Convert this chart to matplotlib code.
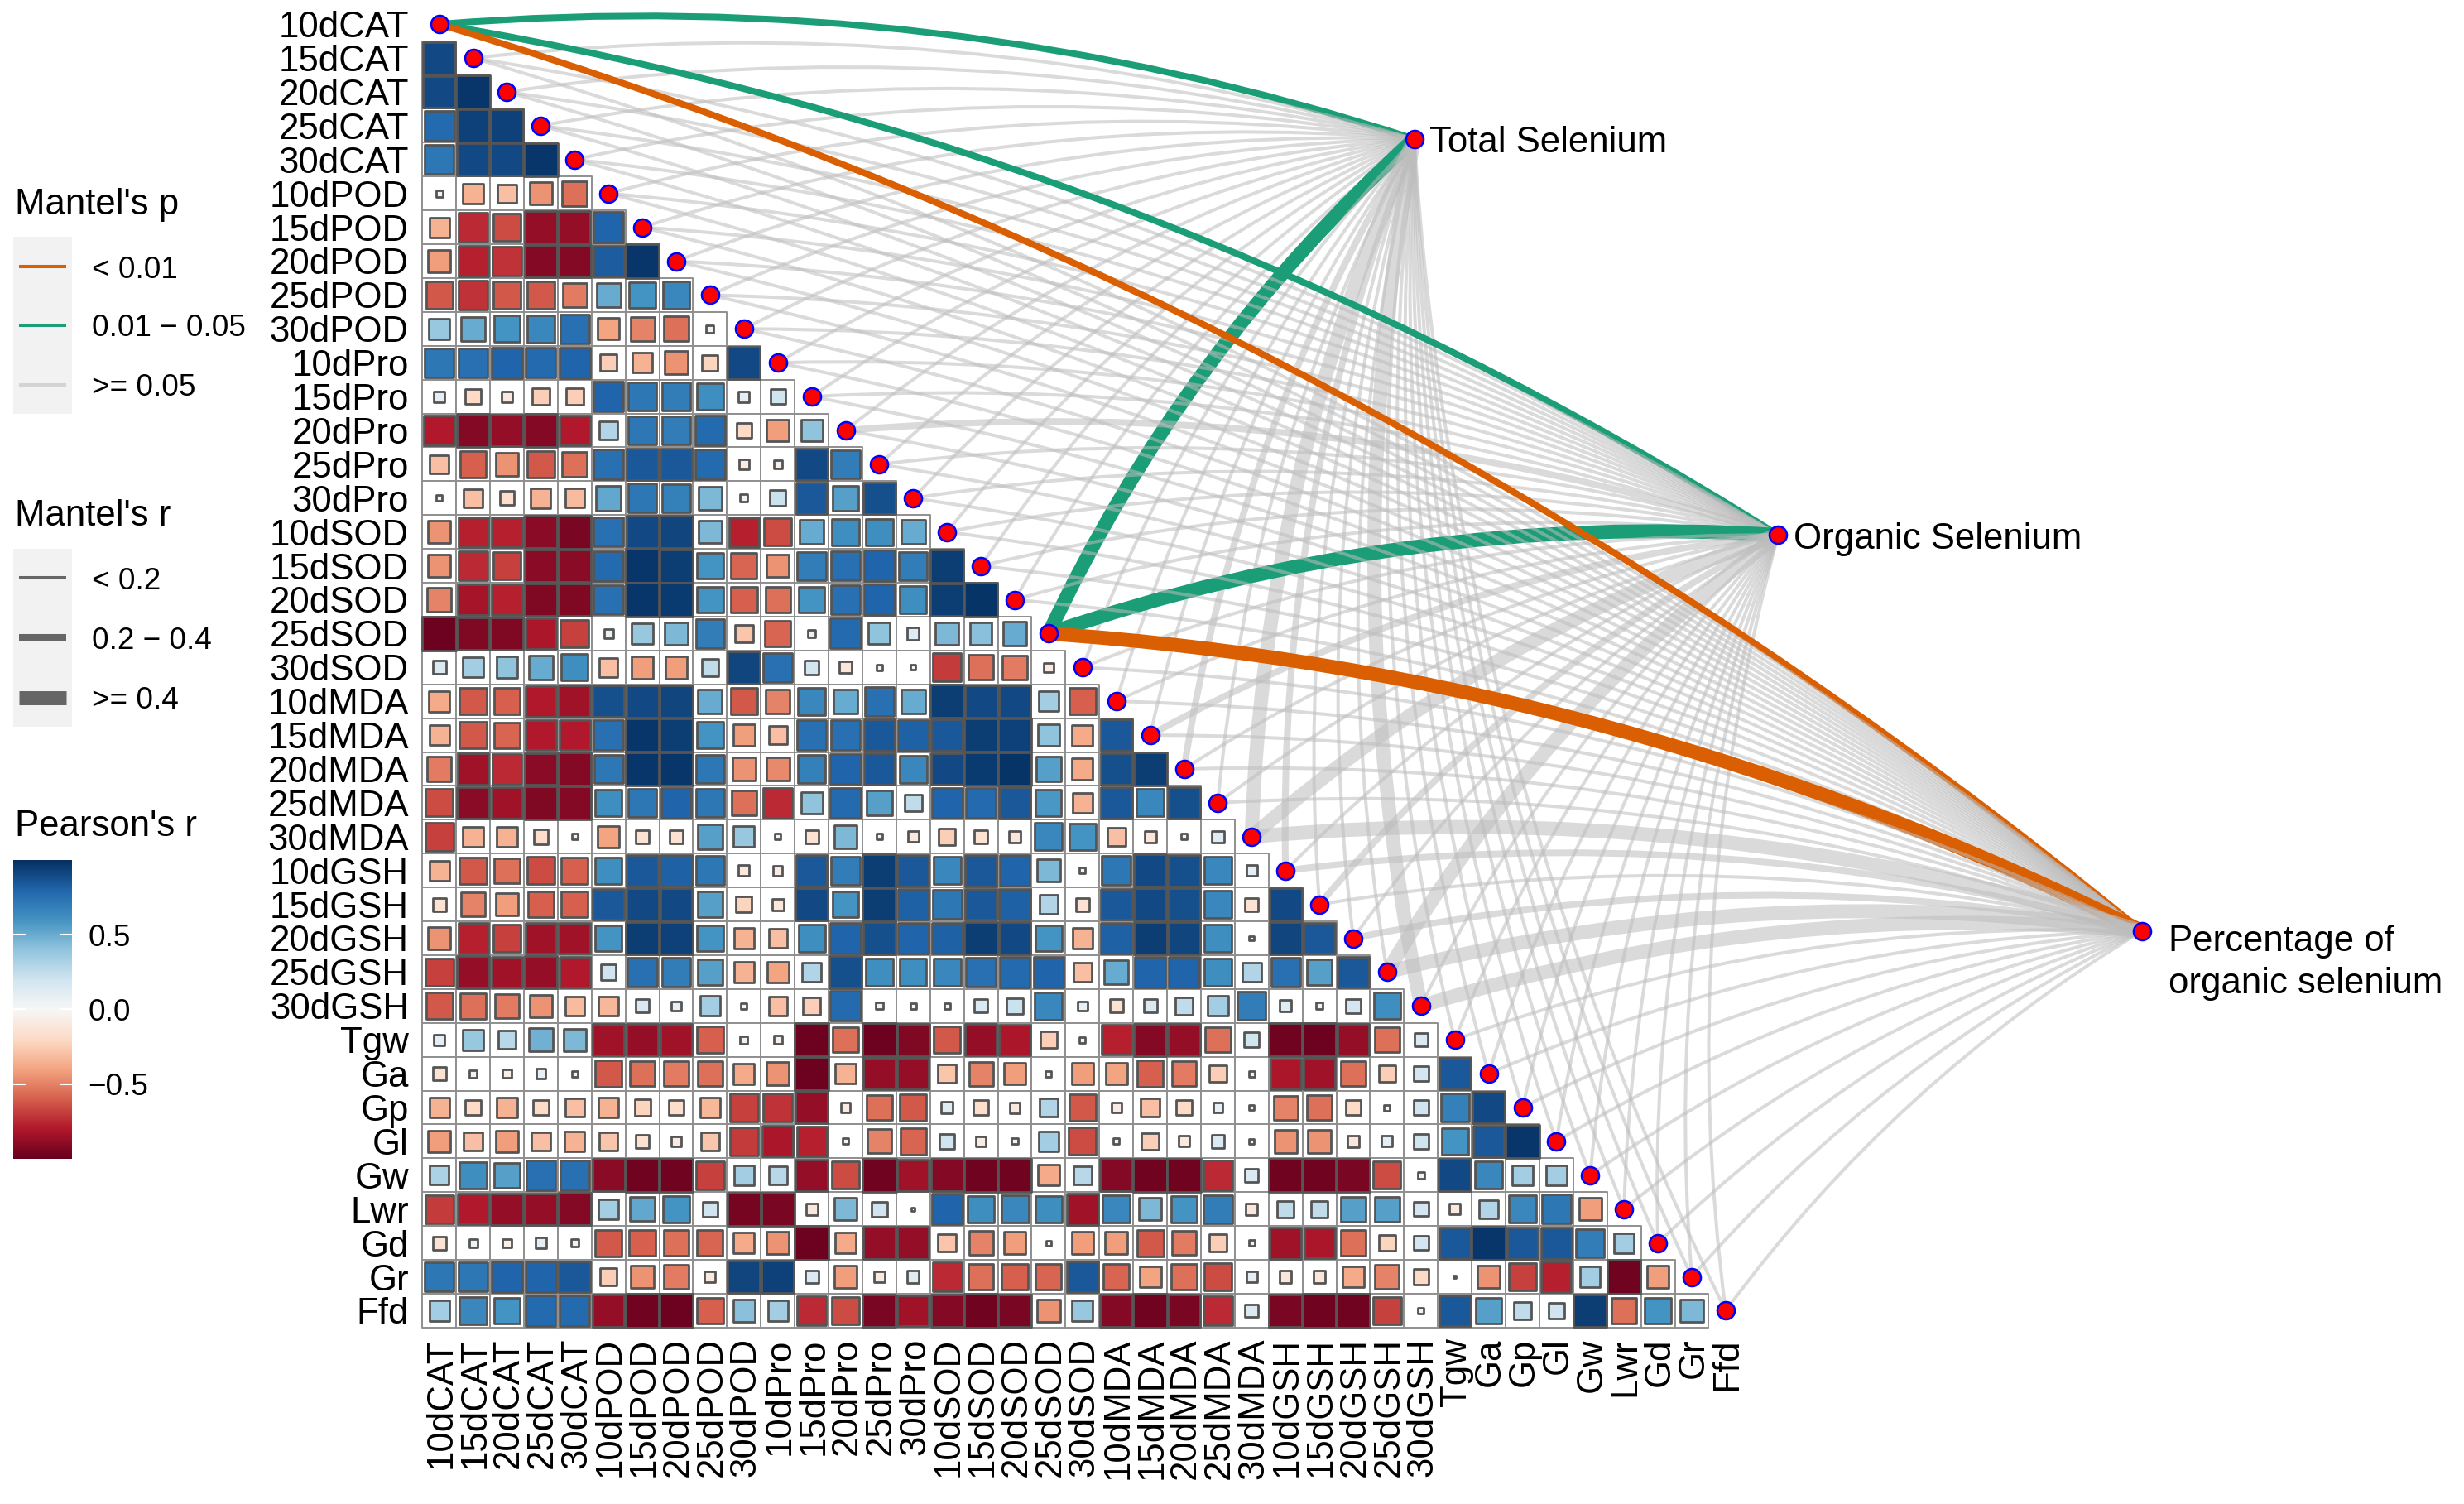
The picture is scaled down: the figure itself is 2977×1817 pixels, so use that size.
import numpy as np
import matplotlib.pyplot as plt
import matplotlib.colors as mcolors
from matplotlib.patches import Rectangle, PathPatch
from matplotlib.collections import PatchCollection
from matplotlib.path import Path

plt.rcParams['font.family'] = ['Liberation Sans', 'DejaVu Sans']

############################################################################
# data
############################################################################

variables = ['10dCAT', '15dCAT', '20dCAT', '25dCAT', '30dCAT',
             '10dPOD', '15dPOD', '20dPOD', '25dPOD', '30dPOD',
             '10dPro', '15dPro', '20dPro', '25dPro', '30dPro',
             '10dSOD', '15dSOD', '20dSOD', '25dSOD', '30dSOD',
             '10dMDA', '15dMDA', '20dMDA', '25dMDA', '30dMDA',
             '10dGSH', '15dGSH', '20dGSH', '25dGSH', '30dGSH',
             'Tgw', 'Ga', 'Gp', 'Gl', 'Gw', 'Lwr', 'Gd', 'Gr', 'Ffd']

# Pearson's r, lower triangle: row k holds r(variables[k+1], variables[0..k])
corr_rows = [
    [0.90],
    [0.90, 0.97],
    [0.78, 0.93, 0.93],
    [0.72, 0.90, 0.90, 0.97],
    [-0.04, -0.35, -0.30, -0.45, -0.55],
    [-0.35, -0.75, -0.65, -0.88, -0.88, 0.80],
    [-0.42, -0.78, -0.72, -0.92, -0.92, 0.83, 0.97],
    [-0.62, -0.72, -0.62, -0.62, -0.52, 0.50, 0.60, 0.65],
    [0.38, 0.50, 0.60, 0.65, 0.75, -0.40, -0.50, -0.55, 0.05],
    [0.72, 0.75, 0.80, 0.78, 0.80, -0.25, -0.35, -0.45, -0.22, 0.90],
    [0.10, -0.20, -0.10, -0.25, -0.25, 0.80, 0.72, 0.70, 0.62, 0.10, 0.20],
    [-0.80, -0.92, -0.88, -0.92, -0.80, 0.30, 0.72, 0.70, 0.78, -0.20, -0.42, 0.40],
    [-0.30, -0.60, -0.45, -0.62, -0.55, 0.75, 0.85, 0.85, 0.78, -0.08, -0.06, 0.90, 0.70],
    [-0.03, -0.30, -0.18, -0.35, -0.32, 0.52, 0.72, 0.68, 0.45, 0.05, 0.22, 0.85, 0.55,
     0.88],
    [-0.45, -0.78, -0.78, -0.90, -0.95, 0.75, 0.90, 0.92, 0.45, -0.78, -0.65, 0.50, 0.62,
     0.62, 0.50],
    [-0.45, -0.75, -0.68, -0.90, -0.90, 0.78, 0.97, 0.95, 0.60, -0.58, -0.45, 0.70, 0.75,
     0.80, 0.70, 0.95],
    [-0.50, -0.83, -0.78, -0.93, -0.93, 0.75, 0.97, 0.96, 0.60, -0.60, -0.55, 0.60, 0.75,
     0.80, 0.62, 0.95, 0.98],
    [-0.98, -0.93, -0.93, -0.82, -0.68, 0.07, 0.38, 0.45, 0.70, -0.28, -0.58, 0.05, 0.78,
     0.40, 0.12, 0.45, 0.42, 0.50],
    [0.15, 0.35, 0.40, 0.50, 0.62, -0.30, -0.42, -0.42, 0.25, 0.92, 0.75, 0.18, -0.12,
     0.03, 0.02, -0.70, -0.55, -0.52, -0.08],
    [-0.38, -0.62, -0.60, -0.80, -0.85, 0.88, 0.90, 0.92, 0.50, -0.62, -0.50, 0.65, 0.50,
     0.75, 0.50, 0.95, 0.90, 0.90, 0.35, -0.60],
    [-0.35, -0.62, -0.58, -0.80, -0.80, 0.75, 0.97, 0.95, 0.60, -0.42, -0.30, 0.75, 0.75,
     0.85, 0.82, 0.85, 0.95, 0.93, 0.40, -0.38, 0.85],
    [-0.52, -0.85, -0.75, -0.90, -0.92, 0.72, 0.97, 0.97, 0.72, -0.45, -0.48, 0.68, 0.80,
     0.85, 0.65, 0.90, 0.96, 0.98, 0.55, -0.38, 0.88, 0.95],
    [-0.65, -0.90, -0.85, -0.93, -0.92, 0.62, 0.72, 0.80, 0.72, -0.55, -0.75, 0.40, 0.78,
     0.55, 0.25, 0.80, 0.78, 0.85, 0.58, -0.35, 0.85, 0.65, 0.88],
    [-0.68, -0.35, -0.35, -0.18, -0.03, -0.40, -0.15, -0.15, 0.55, 0.38, -0.03, -0.15, 0.45,
     0.03, -0.10, -0.25, -0.15, -0.12, 0.65, 0.60, -0.30, -0.12, 0.03, 0.12],
    [-0.35, -0.62, -0.55, -0.65, -0.60, 0.62, 0.85, 0.82, 0.72, -0.10, -0.08, 0.85, 0.70,
     0.95, 0.85, 0.65, 0.85, 0.80, 0.45, 0.03, 0.72, 0.90, 0.88, 0.65, 0.10],
    [-0.15, -0.50, -0.42, -0.60, -0.60, 0.85, 0.90, 0.90, 0.55, -0.22, -0.12, 0.90, 0.60,
     0.95, 0.82, 0.72, 0.85, 0.82, 0.30, -0.15, 0.85, 0.90, 0.88, 0.65, -0.15, 0.90],
    [-0.45, -0.78, -0.68, -0.85, -0.85, 0.60, 0.95, 0.93, 0.60, -0.35, -0.30, 0.62, 0.80,
     0.88, 0.80, 0.82, 0.95, 0.90, 0.60, -0.35, 0.82, 0.95, 0.92, 0.62, 0.02, 0.92, 0.85],
    [-0.68, -0.88, -0.85, -0.88, -0.80, 0.20, 0.75, 0.70, 0.55, -0.35, -0.40, 0.30, 0.88,
     0.62, 0.62, 0.65, 0.75, 0.78, 0.80, -0.30, 0.50, 0.80, 0.80, 0.62, 0.30, 0.75, 0.55,
     0.85],
    [-0.62, -0.55, -0.52, -0.45, -0.32, -0.33, 0.15, 0.08, 0.35, 0.03, -0.30, -0.25, 0.78,
     0.04, 0.03, 0.03, 0.15, 0.22, 0.65, 0.08, -0.15, 0.15, 0.25, 0.35, 0.70, 0.12, -0.04,
     0.18, 0.62],
    [0.10, 0.38, 0.28, 0.48, 0.45, -0.85, -0.88, -0.85, -0.60, 0.05, -0.06, -0.98, -0.55,
     -0.98, -0.93, -0.62, -0.88, -0.82, -0.25, 0.03, -0.78, -0.92, -0.88, -0.55, 0.20, -0.97,
     -0.98, -0.88, -0.55, 0.15],
    [-0.15, 0.05, -0.06, 0.08, 0.03, -0.62, -0.55, -0.52, -0.55, -0.38, -0.45, -0.98, -0.35,
     -0.88, -0.88, -0.28, -0.50, -0.42, 0.03, -0.42, -0.40, -0.60, -0.52, -0.25, 0.03, -0.82,
     -0.85, -0.55, -0.25, 0.18, 0.85],
    [-0.35, -0.20, -0.35, -0.20, -0.30, -0.35, -0.22, -0.18, -0.33, -0.68, -0.72, -0.88, -0.08,
     -0.55, -0.62, 0.12, -0.18, -0.10, 0.30, -0.62, -0.08, -0.30, -0.20, 0.08, 0.02, -0.50,
     -0.55, -0.20, 0.03, 0.20, 0.68, 0.90],
    [-0.42, -0.30, -0.42, -0.30, -0.35, -0.28, -0.15, -0.08, -0.28, -0.70, -0.82, -0.78, -0.03,
     -0.50, -0.58, 0.20, -0.08, -0.03, 0.35, -0.65, -0.03, -0.25, -0.10, 0.15, 0.02, -0.45,
     -0.45, -0.12, 0.10, 0.20, 0.60, 0.85, 0.97],
    [0.32, 0.62, 0.55, 0.75, 0.75, -0.90, -0.97, -0.97, -0.68, 0.35, 0.28, -0.88, -0.65,
     -0.97, -0.85, -0.92, -0.97, -0.97, -0.38, 0.28, -0.92, -0.97, -0.97, -0.75, 0.15, -0.97,
     -0.97, -0.95, -0.65, 0.04, 0.90, 0.65, 0.35, 0.35],
    [-0.70, -0.80, -0.88, -0.88, -0.92, 0.35, 0.52, 0.60, 0.20, -0.96, -0.95, -0.12, 0.45,
     0.20, 0.01, 0.80, 0.62, 0.65, 0.62, -0.85, 0.65, 0.45, 0.60, 0.70, -0.12, 0.25,
     0.25, 0.55, 0.55, 0.18, -0.10, 0.30, 0.65, 0.72, -0.42],
    [-0.15, 0.06, -0.06, 0.10, 0.05, -0.62, -0.60, -0.55, -0.58, -0.38, -0.45, -0.98, -0.38,
     -0.88, -0.88, -0.28, -0.50, -0.42, -0.02, -0.42, -0.42, -0.62, -0.52, -0.25, 0.03, -0.85,
     -0.82, -0.55, -0.22, 0.18, 0.85, 0.97, 0.85, 0.85, 0.70, 0.35],
    [0.72, 0.72, 0.80, 0.80, 0.85, -0.25, -0.45, -0.52, -0.10, 0.92, 0.93, 0.15, -0.42,
     -0.10, 0.12, -0.75, -0.55, -0.60, -0.58, 0.85, -0.58, -0.40, -0.55, -0.65, 0.10, -0.12,
     -0.12, -0.38, -0.50, -0.20, -0.005, -0.45, -0.68, -0.78, 0.35, -0.97, -0.42],
    [0.35, 0.65, 0.60, 0.78, 0.78, -0.88, -0.97, -0.98, -0.60, 0.42, 0.35, -0.75, -0.65,
     -0.95, -0.85, -0.92, -0.97, -0.95, -0.45, 0.38, -0.92, -0.97, -0.95, -0.75, 0.15, -0.95,
     -0.97, -0.97, -0.68, 0.03, 0.85, 0.55, 0.25, 0.20, 0.95, -0.55, 0.60, 0.45],
]

env_names = ['Total Selenium', 'Organic Selenium', 'Percentage of\norganic selenium']

# Mantel test classes per variable (same order as `variables`, grouped by 5)
# p: 0 = < 0.01, 1 = 0.01 - 0.05, 2 = >= 0.05
# r: 0 = < 0.2,  1 = 0.2 - 0.4,   2 = >= 0.4
mantel_p = {
    'Total Selenium':   "12222 22222 22222 22212 22222 22222 222222222",
    'Organic Selenium': "12222 22222 22222 22212 22222 22222 222222222",
    'Percentage of\norganic selenium':
                        "02222 22222 22222 22202 22222 22222 222222222",
}
mantel_r = {
    'Total Selenium':   "10000 00000 00000 00020 00102 10002 000000000",
    'Organic Selenium': "10000 00000 00100 00020 01002 01020 000000000",
    'Percentage of\norganic selenium':
                        "10000 00000 00000 00020 00002 10122 000000000",
}

p_labels = ['< 0.01', '0.01 \u2212 0.05', '>= 0.05']
r_labels = ['< 0.2', '0.2 \u2212 0.4', '>= 0.4']
cbar_ticks = [0.5, 0.0, -0.5]
cbar_labels = ['0.5', '0.0', '\u22120.5']

############################################################################
# styles / layout
############################################################################

p_colors = ['#D95F02', '#1B9E77', '#BDBDBD']
p_alpha = [1.0, 1.0, 0.55]
r_widths = [2.9, 5.8, 12.2]

env_x = [28.8, 39.55, 50.3]
env_y = [3.39, 15.09, 26.79]

W, H = 2977, 1817
big = 31.5
small = 26.6

fig = plt.figure(figsize=(W / 100, H / 100), dpi=100)
ax = fig.add_axes([0, 0, 1, 1])
ax.set_xlim(-12.975, 59.81)
ax.set_ylim(43.71, -0.714)
ax.axis('off')

cmap = plt.get_cmap('RdBu')
norm = mcolors.Normalize(-1, 1)
n = len(variables)


def curve(x0, y0, x1, y1, k=0.1):
    dx, dy = x1 - x0, y1 - y0
    cx = (x0 + x1) / 2 - k * dy
    cy = (y0 + y1) / 2 + k * dx
    return Path([(x0, y0), (cx, cy), (x1, y1)],
                [Path.MOVETO, Path.CURVE3, Path.CURVE3])


############################################################################
# mantel links
############################################################################

for e, name in enumerate(env_names):
    pcls = "".join(mantel_p[name].split())
    rcls = "".join(mantel_r[name].split())
    for v in range(n):
        pc, rc = int(pcls[v]), int(rcls[v])
        patch = PathPatch(curve(env_x[e], env_y[e], v, v), fill=False,
                          edgecolor=p_colors[pc], alpha=p_alpha[pc],
                          linewidth=r_widths[rc], capstyle='butt', zorder=1)
        ax.add_patch(patch)

############################################################################
# correlation squares
############################################################################

cells, squares, sq_colors = [], [], []
for i, row in enumerate(corr_rows, start=1):
    for j, r in enumerate(row):
        cells.append(Rectangle((j - 0.5, i - 0.5), 1, 1))
        side = np.sqrt(abs(r))
        squares.append(Rectangle((j - side / 2, i - side / 2), side, side))
        sq_colors.append(cmap(norm(r)))

ax.add_collection(PatchCollection(cells, facecolor='white', edgecolor='#8f8f8f',
                                  linewidth=1.4, zorder=2))
ax.add_collection(PatchCollection(squares, facecolors=sq_colors, edgecolor='#555555',
                                  linewidth=2.0, zorder=3))

ax.scatter(range(n), range(n), s=230, c='red', edgecolors='blue', linewidths=1.8, zorder=5)
ax.scatter(env_x, env_y, s=230, c='red', edgecolors='blue', linewidths=1.8, zorder=5)

for i, name in enumerate(variables):
    ax.text(-0.9, i + 0.39, name, ha='right', va='baseline', fontsize=big)
    ax.text(i + 0.05, 38.8, name, ha='center', va='top', rotation=90, fontsize=big)

ax.text(env_x[0] + 0.45, env_y[0] + 0.4, env_names[0], ha='left', va='baseline', fontsize=big)
ax.text(env_x[1] + 0.45, env_y[1] + 0.4, env_names[1], ha='left', va='baseline', fontsize=big)
for k, line in enumerate(env_names[2].split('\n')):
    ax.text(env_x[2] + 0.77, env_y[2] + 0.59 + 1.25 * k, line, ha='left', va='baseline',
            fontsize=big)

############################################################################
# legends (pixel coordinates)
############################################################################

lax = fig.add_axes([0, 0, 1, 1])
lax.axis('off')

lax.text(18, 259, "Mantel's p", ha='left', va='baseline', fontsize=big)
lax.add_patch(Rectangle((16, 286), 71, 214, facecolor='#F2F2F2', edgecolor='none'))
for k, yy in enumerate([322, 393, 465]):
    lax.plot([23, 80], [yy, yy], color=p_colors[k], alpha=p_alpha[k], linewidth=2.9,
             solid_capstyle='butt')
    lax.text(111, yy, p_labels[k], ha='left', va='center_baseline', fontsize=small)

lax.text(18, 635, "Mantel's r", ha='left', va='baseline', fontsize=big)
lax.add_patch(Rectangle((16, 663), 71, 215, facecolor='#F2F2F2', edgecolor='none'))
for k, yy in enumerate([698, 770, 843]):
    lax.plot([23, 80], [yy, yy], color='#666666', linewidth=r_widths[k],
             solid_capstyle='butt')
    lax.text(111, yy, r_labels[k], ha='left', va='center_baseline', fontsize=small)

lax.text(18, 1010, "Pearson's r", ha='left', va='baseline', fontsize=big)
cb_top, cb_bot = 1039, 1400
grad = np.linspace(1, -1, 256).reshape(-1, 1)
lax.imshow(grad, extent=(16, 87, cb_bot, cb_top), cmap=cmap, norm=norm, aspect='auto')
for t, lab in zip(cbar_ticks, cbar_labels):
    yy = cb_top + (1 - t) / 2 * (cb_bot - cb_top)
    lax.plot([16, 30], [yy, yy], color='white', linewidth=1.5)
    lax.plot([73, 87], [yy, yy], color='white', linewidth=1.5)
    lax.text(106, yy, lab, ha='left', va='center_baseline', fontsize=small)

lax.set_xlim(0, W)
lax.set_ylim(H, 0)

fig.savefig('out.png', dpi=100)
